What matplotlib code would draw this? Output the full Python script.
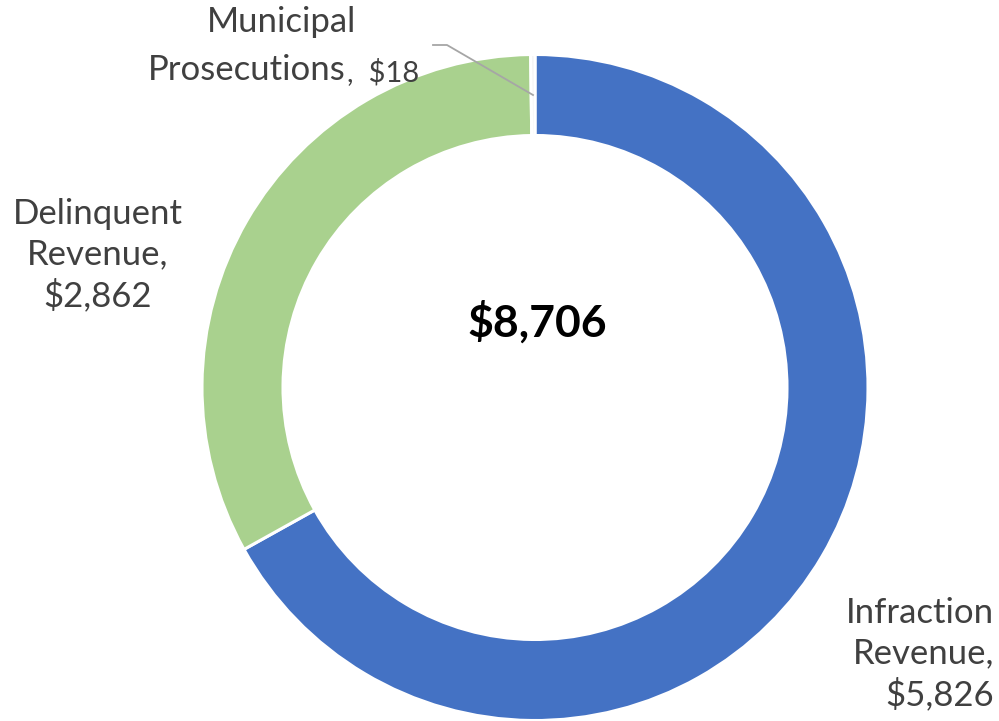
import matplotlib
matplotlib.use("Agg")
import matplotlib.pyplot as plt

categories = ["Infraction Revenue", "Delinquent Revenue", "Municipal Prosecutions"]
values = [5826, 2862, 18]
total_label = "$8,706"
colors = ["#4472C4", "#A9D18E", "#F2F2F2"]

plt.rcParams['font.family'] = ['Lato', 'DejaVu Sans']

W, H = 999, 721
fig = plt.figure(figsize=(W / 100, H / 100), dpi=100)
ax = fig.add_axes([0, 0, 1, 1])
ax.set_xlim(0, W)
ax.set_ylim(0, H)
ax.set_aspect('equal')
ax.axis('off')

cx, cy, R = 535, H - 387.5, 333
ax.pie(values, colors=colors, startangle=90, counterclock=False,
       center=(cx, cy), radius=R, frame=True,
       wedgeprops=dict(width=81, edgecolor='white', linewidth=2.2))
ax.set_xlim(0, W)
ax.set_ylim(0, H)
ax.axis('off')

tc = '#404040'
fs = 25
ax.text(cx + 2, H - 322, total_label, ha='center', va='center',
        fontsize=32, fontweight='bold', color='black')

ax.text(994, H - 654, "Infraction\nRevenue,\n$5,826", ha='right', va='center',
        fontsize=fs, color=tc, linespacing=1.3, multialignment='right')
ax.text(98, H - 255, "Delinquent\nRevenue,\n$2,862", ha='center', va='center',
        fontsize=fs, color=tc, linespacing=1.3, multialignment='center')

ax.text(282, H - 22, "Municipal", ha='center', va='center', fontsize=fs, color=tc)
ax.text(346, H - 70, "Prosecutions", ha='right', va='center', fontsize=fs, color=tc)
ax.text(347, H - 72, ",  $18", ha='left', va='center', fontsize=21, color=tc)

ax.plot([433, 447, 533], [H - 45, H - 45, H - 95], color='#A6A6A6', linewidth=1.3)

fig.savefig("out.png", dpi=100)
